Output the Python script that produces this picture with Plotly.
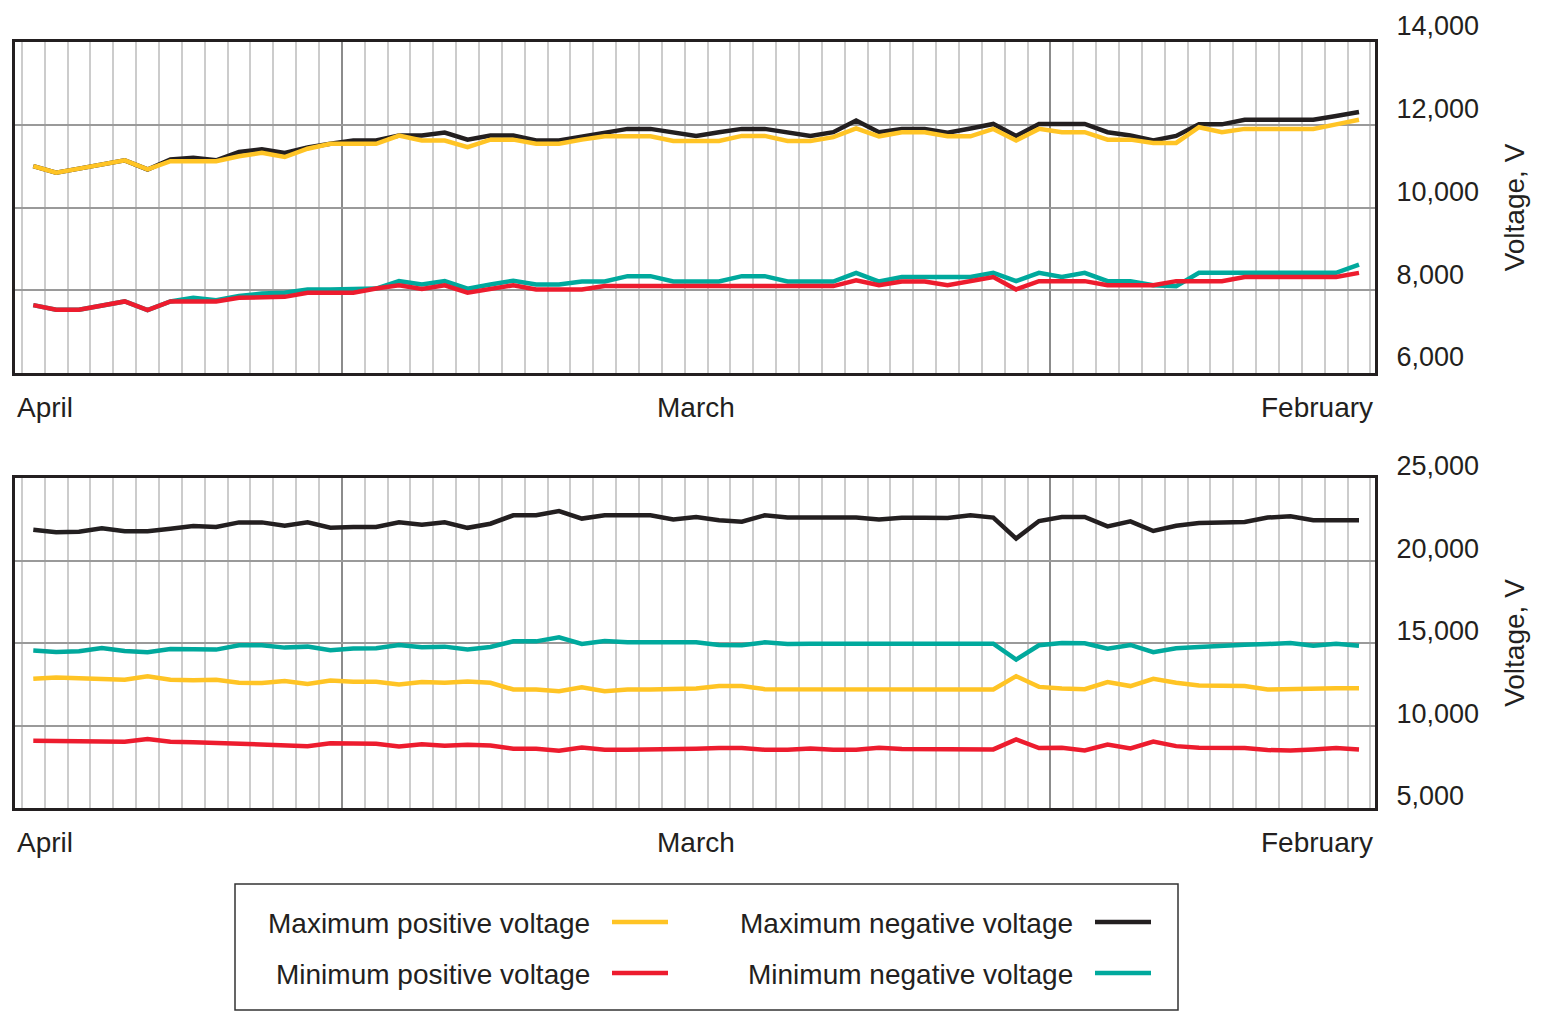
import pandas as pd
import plotly.graph_objects as go

# page body has an 8px default margin; the figure is sized to fill the rest
OFF = 8
W, H = 1544 - OFF, 1024 - OFF

# ---- data (listed left-to-right as drawn: latest day first) ----
dates = list(pd.date_range(end="2021-04-14 12:00", periods=59, freq="D")[::-1])

top_max_neg = [11000, 10840, 10940, 11040, 11140, 10920, 11160, 11200, 11140, 11340,
               11410, 11320, 11450, 11540, 11620, 11620, 11740, 11740, 11810, 11640,
               11740, 11740, 11620, 11620, 11720, 11820, 11900, 11900, 11810, 11730,
               11820, 11900, 11900, 11810, 11730, 11820, 12100, 11820, 11900, 11900,
               11810, 11910, 12020, 11730, 12020, 12020, 12020, 11820, 11740, 11620,
               11730, 12010, 12010, 12120, 12120, 12120, 12120, 12210, 12310]
top_max_pos = [11000, 10840, 10940, 11040, 11140, 10920, 11120, 11120, 11120, 11240,
               11320, 11220, 11420, 11540, 11540, 11540, 11740, 11620, 11620, 11460,
               11640, 11640, 11540, 11540, 11640, 11720, 11720, 11720, 11610, 11610,
               11610, 11730, 11730, 11610, 11610, 11700, 11910, 11720, 11820, 11820,
               11720, 11720, 11900, 11620, 11900, 11820, 11820, 11640, 11640, 11560,
               11560, 11940, 11820, 11900, 11900, 11900, 11900, 12010, 12120]
top_min_neg = [7640, 7530, 7530, 7640, 7730, 7520, 7730, 7820, 7760, 7860,
               7920, 7940, 8020, 8020, 8020, 8040, 8220, 8140, 8220, 8040,
               8140, 8230, 8140, 8140, 8210, 8210, 8340, 8340, 8210, 8210,
               8210, 8340, 8340, 8210, 8210, 8210, 8420, 8210, 8320, 8320,
               8320, 8320, 8420, 8220, 8420, 8320, 8420, 8220, 8220, 8120,
               8100, 8420, 8420, 8420, 8420, 8420, 8420, 8420, 8620]
top_min_pos = [7640, 7530, 7530, 7640, 7730, 7520, 7730, 7730, 7730, 7820,
               7840, 7840, 7940, 7940, 7940, 8040, 8120, 8030, 8120, 7940,
               8030, 8120, 8020, 8020, 8020, 8100, 8100, 8100, 8100, 8100,
               8100, 8100, 8100, 8100, 8100, 8100, 8240, 8120, 8210, 8210,
               8120, 8210, 8320, 8020, 8220, 8220, 8220, 8120, 8120, 8120,
               8220, 8220, 8220, 8320, 8320, 8320, 8320, 8320, 8420]

bot_max_neg = [21870, 21710, 21750, 21950, 21770, 21770, 21930, 22090, 22030, 22310,
               22310, 22110, 22310, 21990, 22030, 22030, 22310, 22170, 22310, 21980,
               22230, 22740, 22740, 23000, 22540, 22740, 22740, 22740, 22480, 22640,
               22440, 22350, 22740, 22600, 22600, 22600, 22600, 22480, 22590, 22590,
               22580, 22740, 22600, 21330, 22390, 22640, 22640, 22070, 22370, 21790,
               22110, 22270, 22330, 22330, 22600, 22680, 22440, 22440, 22440]
bot_min_neg = [14540, 14460, 14500, 14700, 14520, 14440, 14640, 14640, 14600, 14860,
               14860, 14720, 14780, 14560, 14660, 14680, 14880, 14740, 14780, 14600,
               14760, 15100, 15100, 15340, 14940, 15120, 15040, 15040, 15040, 15040,
               14880, 14860, 15040, 14940, 14960, 14960, 14960, 14980, 14980, 14960,
               14960, 14960, 14960, 13990, 14860, 15000, 14980, 14660, 14880, 14440,
               14680, 14760, 14860, 14900, 14940, 15000, 14840, 14960, 14840]
bot_max_pos = [12830, 12910, 12870, 12790, 12770, 12990, 12770, 12750, 12770, 12590,
               12570, 12690, 12510, 12730, 12650, 12650, 12490, 12630, 12590, 12660,
               12590, 12180, 12180, 12080, 12320, 12080, 12180, 12180, 12240, 12240,
               12390, 12390, 12200, 12200, 12240, 12240, 12240, 12240, 12240, 12240,
               12240, 12230, 12180, 12990, 12340, 12240, 12200, 12630, 12390, 12830,
               12590, 12430, 12390, 12390, 12180, 12220, 12260, 12260, 12260]
bot_min_pos = [9070, 9070, 9070, 9030, 9010, 9180, 9010, 8990, 8950, 8890,
               8870, 8850, 8750, 8930, 8890, 8890, 8730, 8870, 8770, 8840,
               8790, 8590, 8590, 8470, 8670, 8530, 8530, 8530, 8590, 8590,
               8630, 8630, 8530, 8530, 8610, 8530, 8530, 8650, 8570, 8570,
               8610, 8590, 8550, 9160, 8630, 8650, 8490, 8850, 8610, 9030,
               8750, 8650, 8630, 8630, 8510, 8490, 8550, 8630, 8550]

month_labels = ["April", "March", "February"]
month_starts = ["2021-03-01", "2021-04-01"]
series_names = ["Maximum negative voltage", "Minimum negative voltage",
                "Maximum positive voltage", "Minimum positive voltage"]
top_y_ticks = [6000, 8000, 10000, 12000, 14000]
bot_y_ticks = [5000, 10000, 15000, 20000, 25000]

# ---- styles ----
C_BLACK, C_TEAL, C_YELLOW, C_RED = "#231f20", "#00a99d", "#ffc425", "#ed1c2e"
colors = [C_BLACK, C_TEAL, C_YELLOW, C_RED]
FONT = "Liberation Sans, Arial, Helvetica, sans-serif"
LW = 4.5

def px(x):
    return (x - OFF) / W

def py(y):
    return 1 - (y - OFF) / H

fig = go.Figure()
top_series = [top_max_neg, top_min_neg, top_max_pos, top_min_pos]
bot_series = [bot_max_neg, bot_min_neg, bot_max_pos, bot_min_pos]
for vals, name, col in zip(top_series, series_names, colors):
    fig.add_trace(go.Scatter(x=dates, y=vals, name=name, mode="lines",
                             line=dict(color=col, width=LW), xaxis="x", yaxis="y",
                             showlegend=False))
for vals, name, col in zip(bot_series, series_names, colors):
    fig.add_trace(go.Scatter(x=dates, y=vals, name=name, mode="lines",
                             line=dict(color=col, width=LW), xaxis="x2", yaxis="y2",
                             showlegend=False))

x_range = ["2021-04-15 07:12", "2021-02-14 19:12"]

def xaxis(domain, anchor):
    return dict(domain=domain, anchor=anchor, type="date", range=x_range,
                tickvals=month_starts, showticklabels=False, ticks="",
                showgrid=True, gridcolor="#8c8c8c", gridwidth=2,
                minor=dict(dtick=86400000, tick0="2021-02-01", showgrid=True,
                           gridcolor="#cccccc", gridwidth=1.5, ticks=""),
                showline=True, linecolor=C_BLACK, linewidth=3, mirror=True,
                zeroline=False, fixedrange=True, automargin=False)

def yaxis(domain, anchor, rng, ticks, shift):
    return dict(domain=domain, anchor=anchor, side="right", range=rng,
                tickvals=ticks, tickformat=",d", ticks="",
                showgrid=True, gridcolor="#9a9a9a", gridwidth=2,
                showline=True, linecolor=C_BLACK, linewidth=3, mirror=True,
                zeroline=False, ticklabelstandoff=13, ticklabelshift=shift,
                tickfont=dict(family=FONT, size=27, color="#231f20"),
                title=dict(text="Voltage, V", standoff=27,
                           font=dict(family=FONT, size=28, color="#231f20")),
                fixedrange=True, automargin=False)

xd = [px(15), px(1375)]
fig.update_layout(
    width=W, height=H,
    margin=dict(l=0, r=0, t=0, b=0, autoexpand=False),
    paper_bgcolor="white", plot_bgcolor="white",
    font=dict(family=FONT, color="#231f20"),
    xaxis=xaxis(xd, "y"),
    yaxis=yaxis([py(373), py(42)], "x", [6000, 14000], top_y_ticks, -16),
    xaxis2=xaxis(xd, "y2"),
    yaxis2=yaxis([py(808), py(478)], "x2", [5000, 25000], bot_y_ticks, -12),
    showlegend=False,
)

# month labels
annotations = []
for xa, ya in [("x", "y"), ("x2", "y2")]:
    dom = f"{xa} domain"
    ydom = f"{ya} domain"
    annotations.append(dict(text=month_labels[0], xref=dom, yref=ydom, x=0, y=-0.105,
                            xanchor="left", yanchor="middle", showarrow=False,
                            font=dict(family=FONT, size=28)))
    annotations.append(dict(text=month_labels[1], xref=xa, yref=ydom, x="2021-03-16 12:00",
                            y=-0.105, xanchor="center", yanchor="middle", showarrow=False,
                            font=dict(family=FONT, size=28)))
    annotations.append(dict(text=month_labels[2], xref=dom, yref=ydom, x=1, y=-0.105,
                            xanchor="right", yanchor="middle", showarrow=False,
                            font=dict(family=FONT, size=28)))

# legend (box, line samples, labels)
shapes = [dict(type="rect", xref="paper", yref="paper", x0=px(235), x1=px(1178),
               y0=py(1010), y1=py(884), line=dict(color="#333333", width=1.5))]
legend_items = [  # (series index, text right edge, line x0, line x1, row y)
    (2, 592, 612, 668, 922),
    (3, 592, 612, 668, 973),
    (0, 1075, 1095, 1151, 922),
    (1, 1075, 1095, 1151, 973),
]
for idx, tx, lx0, lx1, ry in legend_items:
    shapes.append(dict(type="line", xref="paper", yref="paper", x0=px(lx0), x1=px(lx1),
                       y0=py(ry), y1=py(ry), line=dict(color=colors[idx], width=LW)))
    annotations.append(dict(text=series_names[idx], xref="paper", yref="paper",
                            x=px(tx), y=py(ry + 1), xanchor="right", yanchor="middle",
                            showarrow=False, font=dict(family=FONT, size=28)))

fig.update_layout(shapes=shapes, annotations=annotations)
fig.write_html("out.html")
